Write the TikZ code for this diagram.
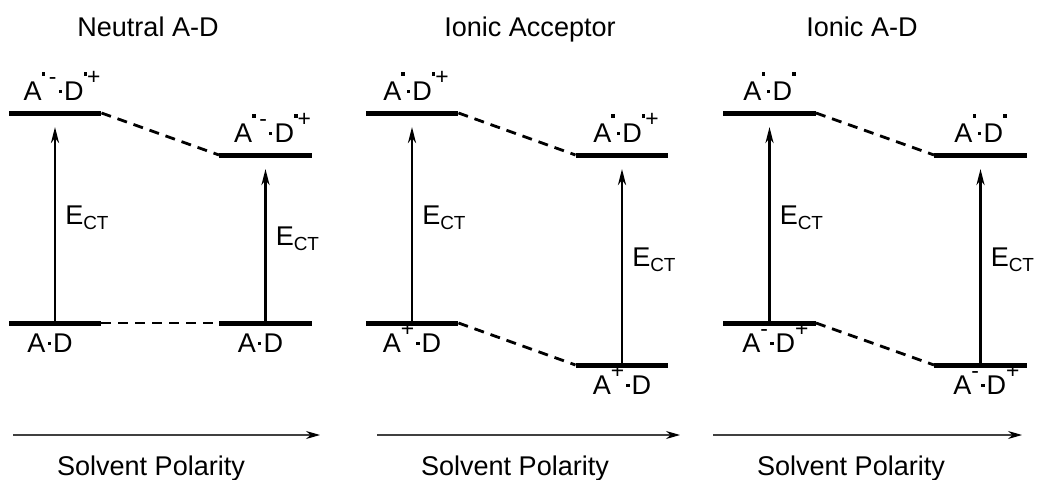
\documentclass[tikz,border=0pt]{standalone}
\usepackage{fontspec}
\setmainfont{Liberation Sans}
\usetikzlibrary{arrows.meta,positioning}

\newcommand{\rad}{\rule{0.12em}{0.12em}}
\newcommand{\sps}[1]{\raisebox{0.58em}{\fontsize{13}{13}\selectfont #1}}
\newcommand{\updot}{\raisebox{0.4em}{\rule{0.15em}{0.15em}}}
\newcommand{\ad}{\kern0.08em\raisebox{0.28em}{\rad}\kern0.08em}
\newcommand{\ect}{E\textsubscript{CT}}

\begin{document}
\begin{tikzpicture}[x=0.02cm, y=-0.02cm,
  font=\fontsize{15.4}{18}\selectfont,
  level/.style={fill=black, minimum width=1.86cm, minimum height=0.1cm, inner sep=0pt, outer sep=0pt},
  upper/.style={inner sep=0pt, text depth=0pt},
  lower/.style={inner sep=0pt, text height=0.72em, text depth=0pt},
  ct/.style={-{Stealth[length=0.32cm, width=0.16cm, inset=0.1cm]}, line width=1.6pt, shorten >=0.23cm},
  corr/.style={line width=1.6pt, dash pattern=on 0.2cm off 0.14cm},
  axis/.style={draw=black!75, line width=0.6pt, -{Stealth[length=0.28cm, width=0.16cm, black]}},
]
\useasboundingbox (0,0) rectangle (1039,480);

% Neutral A-D
\node[anchor=base] (ttl1) at (148,36) {Neutral A-D};
\node[level] (nt1) at (55,113) {};
\node[level] (nt2) at (265.5,155) {};
\node[level] (nb1) at (55,323) {};
\node[level] (nb2) at (265.5,323) {};
\node[upper, above=0.19cm of nt1, xshift=0.14cm] (nt1l) {A\sps{\updot\,-}\ad D\sps{\updot+}};
\node[upper, above=0.19cm of nt2, xshift=0.14cm] (nt2l) {A\sps{\updot\,-}\ad D\sps{\updot+}};
\node[lower, below=0.28cm of nb1, xshift=-0.1cm] (nb1l) {A\ad D};
\node[lower, below=0.28cm of nb2, xshift=-0.1cm] (nb2l) {A\ad D};

% Ionic Acceptor
\node[anchor=base] (ttl2) at (530,36) {Ionic Acceptor};
\node[level] (at1) at (412,113) {};
\node[level] (at2) at (622,155) {};
\node[level] (ab1) at (412,323) {};
\node[level] (ab2) at (622,365) {};
\node[upper, above=0.19cm of at1, xshift=0.08cm] (at1l) {A\sps{\updot}\ad D\sps{\updot+}};
\node[upper, above=0.19cm of at2, xshift=0.08cm] (at2l) {A\sps{\updot}\ad D\sps{\updot+}};
\node[lower, below=0.28cm of ab1] (ab1l) {A\sps{+}\ad D};
\node[lower, below=0.28cm of ab2] (ab2l) {A\sps{+}\ad D};

% Ionic A-D
\node[anchor=base] (ttl3) at (862,36) {Ionic A-D};
\node[level] (it1) at (769.5,113) {};
\node[level] (it2) at (980.5,155) {};
\node[level] (ib1) at (769.5,323) {};
\node[level] (ib2) at (980.5,365) {};
\node[upper, above=0.19cm of it1] (it1l) {A\sps{\updot}\ad D\sps{\updot}};
\node[upper, above=0.19cm of it2] (it2l) {A\sps{\updot}\ad D\sps{\updot}};
\node[lower, below=0.28cm of ib1, xshift=0.12cm] (ib1l) {A\sps{-}\ad D\sps{+}};
\node[lower, below=0.28cm of ib2, xshift=0.12cm] (ib2l) {A\sps{-}\ad D\sps{+}};

\foreach \lo/\hi in {nb1/nt1, nb2/nt2, ab1/at1, ab2/at2, ib1/it1, ib2/it2} {
  \draw[ct] (\lo.north) -- (\hi.south) node[midway, right, xshift=0.06cm] {\ect};
}
\foreach \a/\b in {nt1/nt2, nb1/nb2, at1/at2, ab1/ab2, it1/it2, ib1/ib2} {
  \draw[corr] (\a.east) -- (\b.west);
}

% solvent polarity axes
\coordinate (ax1a) at (13,435);
\coordinate (ax1b) at (320,435);
\coordinate (ax2a) at (377,435);
\coordinate (ax2b) at (680,435);
\coordinate (ax3a) at (713,435);
\coordinate (ax3b) at (1022,435);
\draw[axis] (ax1a) -- (ax1b);
\draw[axis] (ax2a) -- (ax2b);
\draw[axis] (ax3a) -- (ax3b);
\node[anchor=base] (sp1) at (151,475) {Solvent Polarity};
\node[anchor=base] (sp2) at (515,475) {Solvent Polarity};
\node[anchor=base] (sp3) at (851,475) {Solvent Polarity};

\end{tikzpicture}
\end{document}
